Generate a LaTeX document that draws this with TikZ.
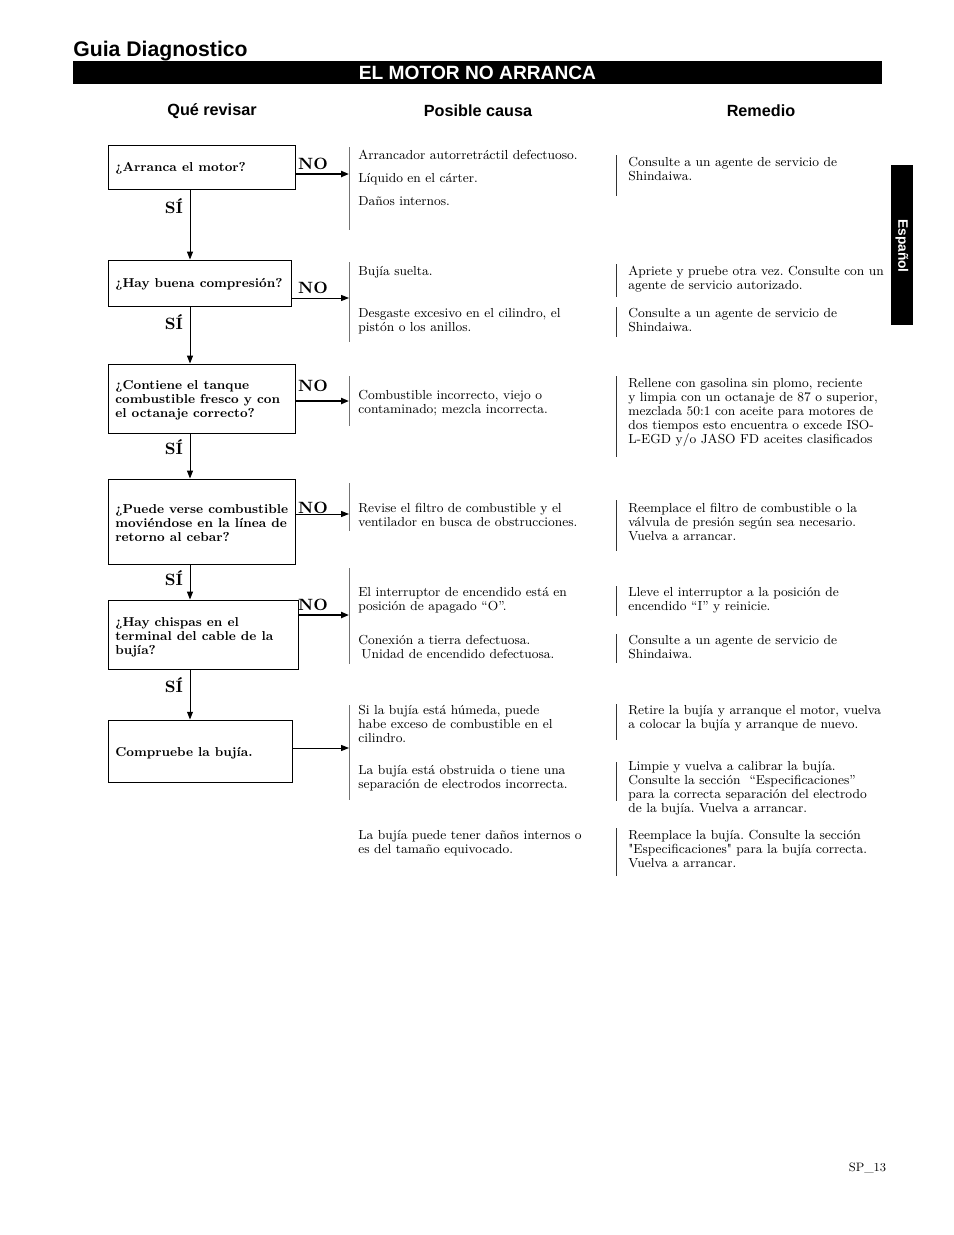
\documentclass[tikz,border=0pt]{standalone}
\usepackage{fontspec}
\setmainfont{lmroman9-regular.otf}[BoldFont=lmroman9-bold.otf, Ligatures=TeX]
\newfontfamily\hsans{Liberation Sans}
\newfontfamily\lmplain{lmroman9-regular.otf}
\newcommand{\sq}{{\lmplain\symbol{34}}}
\usetikzlibrary{arrows.meta}
\def\pxu{0.6415pt}
\frenchspacing
\tikzset{
  qbox/.style={draw, line width=0.6pt, inner sep=0pt},
  qtxt/.style={anchor=west, inner sep=0pt, align=left, font=\fontsize{8.3}{8.98}\selectfont\bfseries\frenchspacing},
  ctxt/.style={anchor=north west, inner sep=0pt, align=left, font=\fontsize{8.4}{8.98}\selectfont\frenchspacing},
  yn/.style={inner sep=0pt, font=\fontsize{10.5}{12}\selectfont\bfseries},
  arr/.style={-{Triangle[length=5pt,width=3.8pt]}, line width=0.6pt},
  arrthick/.style={arr, line width=1.2pt},
  brk/.style={line width=0.6pt, black!55},
  rml/.style={line width=0.6pt, black!80},
  colhead/.style={inner sep=0pt, font=\hsans\bfseries\fontsize{10.4}{12}\selectfont},
}
\begin{document}
\begin{tikzpicture}[x=0.6415pt, y=-0.6415pt]
\useasboundingbox (0,0) rectangle (954,1235);
% header
\node[anchor=base west, inner sep=0pt, font=\hsans\bfseries\fontsize{13.6}{15}\selectfont] (title) at (73,56) {Guia Diagnostico};
\node[fill=black, minimum width=809*\pxu, minimum height=23*\pxu, inner sep=0pt, text=white, font=\hsans\bfseries\fontsize{12.3}{14}\selectfont] (bar) at (477.5,72.5) {EL MOTOR NO ARRANCA};
\node[colhead] (h1) at (212,111) {Qué revisar};
\node[colhead] (h2) at (478,111) {Posible causa};
\node[colhead] (h3) at (761,111) {Remedio};
% side tab
\node[fill=black, minimum width=22*\pxu, minimum height=160*\pxu, inner sep=0pt] (tab) at (902,245) {};
\node[rotate=-90, text=white, inner sep=0pt, font=\hsans\bfseries\fontsize{8.8}{10}\selectfont] (tabt) at (902,246) {Español};
% boxes
\node[qbox, minimum width=187*\pxu, minimum height=44*\pxu] (b1) at (201.5,167) {};
\node[qtxt] (q1) at (115,168.5) {¿Arranca el motor?};
\node[qbox, minimum width=183*\pxu, minimum height=46*\pxu] (b2) at (199.5,283) {};
\node[qtxt] (q2) at (115,284.5) {¿Hay buena compresión?};
\node[qbox, minimum width=187*\pxu, minimum height=69*\pxu] (b3) at (201.5,398.5) {};
\node[qtxt] (q3) at (115,400.5) {¿Contiene el tanque\\combustible fresco y con\\el octanaje correcto?};
\node[qbox, minimum width=187*\pxu, minimum height=85*\pxu] (b4) at (201.5,521.5) {};
\node[qtxt] (q4) at (115,523.5) {¿Puede verse combustible\\moviéndose en la línea de\\retorno al cebar?};
\node[qbox, minimum width=190*\pxu, minimum height=69*\pxu] (b5) at (203,634.5) {};
\node[qtxt] (q5) at (115,637.5) {¿Hay chispas en el\\terminal del cable de la\\bujía?};
\node[qbox, minimum width=184*\pxu, minimum height=62*\pxu] (b6) at (200,751) {};
\node[qtxt] (q6) at (115,753.5) {Compruebe la bujía.};
% vertical arrows
\coordinate (vx) at (190,0);
\draw[arr] (b1.south -| vx) -- (b2.north -| vx);
\draw[arr] (b2.south -| vx) -- (b3.north -| vx);
\draw[arr] (b3.south -| vx) -- (b4.north -| vx);
\draw[arr] (b4.south -| vx) -- (b5.north -| vx);
\draw[arr] (b5.south -| vx) -- (b6.north -| vx);
% SI labels
\node[yn] (s1) at (174,206) {SÍ};
\node[yn] (s2) at (174,322) {SÍ};
\node[yn] (s3) at (174,447) {SÍ};
\node[yn] (s4) at (174,578) {SÍ};
\node[yn] (s5) at (174,685) {SÍ};
% NO labels
\node[yn] (n1) at (313,164) {NO};
\node[yn] (n2) at (313,288) {NO};
\node[yn] (n3) at (313,386) {NO};
\node[yn] (n4) at (313,508) {NO};
\node[yn] (n5) at (313,605) {NO};
% cause brackets
\draw[brk] (349,147) -- (349,230);
\draw[brk] (349,262) -- (349,342);
\draw[brk] (349,376) -- (349,426);
\draw[brk] (349,483) -- (349,531);
\draw[brk] (349,568) -- (349,664);
\draw[brk] (349,705) -- (349,800);
% horizontal arrows
\coordinate (k1) at (349,174);
\coordinate (k2) at (349,298);
\coordinate (k3) at (349,401);
\coordinate (k4) at (349,514);
\coordinate (k5) at (349,615);
\coordinate (k6) at (349,748);
\draw[arrthick] (b1.east |- k1) -- (k1);
\draw[arr] (b2.east |- k2) -- (k2);
\draw[arrthick] (b3.east |- k3) -- (k3);
\draw[arr] (b4.east |- k4) -- (k4);
\draw[arrthick] (b5.east |- k5) -- (k5);
\draw[arr] (b6.east |- k6) -- (k6);
% causes
\node[ctxt] (c1a) at (358,149.5) {\strut Arrancador autorretráctil defectuoso.};
\node[ctxt] (c1b) at (358,172.5) {\strut Líquido en el cárter.};
\node[ctxt] (c1c) at (358,195.5) {\strut Daños internos.};
\node[ctxt] (c2a) at (358,265.5) {\strut Bujía suelta.};
\node[ctxt] (c2b) at (358,307.5) {\strut Desgaste excesivo en el cilindro, el\\pistón o los anillos.};
\node[ctxt] (c3) at (358,389.5) {\strut Combustible incorrecto, viejo o\\contaminado; mezcla incorrecta.};
\node[ctxt] (c4) at (358,502.5) {\strut Revise el filtro de combustible y el\\ventilador en busca de obstrucciones.};
\node[ctxt] (c5a) at (358,586.5) {\strut El interruptor de encendido está en\\posición de apagado “O”.};
\node[ctxt] (c5b) at (358,634.5) {\strut Conexión a tierra defectuosa.\\\hspace*{2pt}Unidad de encendido defectuosa.};
\node[ctxt] (c6a) at (358,704.5) {\strut Si la bujía está húmeda, puede\\habe exceso de combustible en el\\cilindro.};
\node[ctxt] (c6b) at (358,764.5) {\strut La bujía está obstruida o tiene una\\separación de electrodos incorrecta.};
\node[ctxt] (c6c) at (358,829.5) {\strut La bujía puede tener daños internos o\\es del tamaño equivocado.};
% remedy lines
\draw[rml] (616,155) -- (616,196);
\draw[rml] (616,264) -- (616,297);
\draw[rml] (616,307) -- (616,337);
\draw[rml] (616,376) -- (616,457);
\draw[rml] (616,500) -- (616,551);
\draw[rml] (616,586) -- (616,616);
\draw[rml] (616,634) -- (616,663);
\draw[rml] (616,704) -- (616,740);
\draw[rml] (616,762) -- (616,801);
\draw[rml] (616,828) -- (616,876);
% remedies
\node[ctxt] (r1) at (628,156.5) {\strut Consulte a un agente de servicio de\\Shindaiwa.};
\node[ctxt] (r2a) at (628,265.5) {\strut Apriete y pruebe otra vez. Consulte con un\\agente de servicio autorizado.};
\node[ctxt] (r2b) at (628,307.5) {\strut Consulte a un agente de servicio de\\Shindaiwa.};
\node[ctxt] (r3) at (628,377.5) {\strut Rellene con gasolina sin plomo, reciente\\y limpia con un octanaje de 87 o superior,\\mezclada 50:1 con aceite para motores de\\dos tiempos esto encuentra o excede ISO-\\L-EGD y/o JASO FD aceites clasificados};
\node[ctxt] (r4) at (628,502.5) {\strut Reemplace el filtro de combustible o la\\válvula de presión según sea necesario.\\Vuelva a arrancar.};
\node[ctxt] (r5a) at (628,586.5) {\strut Lleve el interruptor a la posición de\\encendido “I” y reinicie.};
\node[ctxt] (r5b) at (628,634.5) {\strut Consulte a un agente de servicio de\\Shindaiwa.};
\node[ctxt] (r6a) at (628,704.5) {\strut Retire la bujía y arranque el motor, vuelva\\a colocar la bujía y arranque de nuevo.};
\node[ctxt] (r6b) at (628,760.5) {\strut Limpie y vuelva a calibrar la bujía.\\Consulte la sección\ \ “Especificaciones”\\para la correcta separación del electrodo\\de la bujía. Vuelva a arrancar.};
\node[ctxt] (r6c) at (628,829.5) {\strut Reemplace la bujía. Consulte la sección\\\sq Especificaciones\sq\ para la bujía correcta.\\Vuelva a arrancar.};
% footer
\node[inner sep=0pt, font=\fontsize{7.8}{10}\selectfont] (foot) at (867.5,1168.5) {SP\_13};
\end{tikzpicture}
\end{document}
